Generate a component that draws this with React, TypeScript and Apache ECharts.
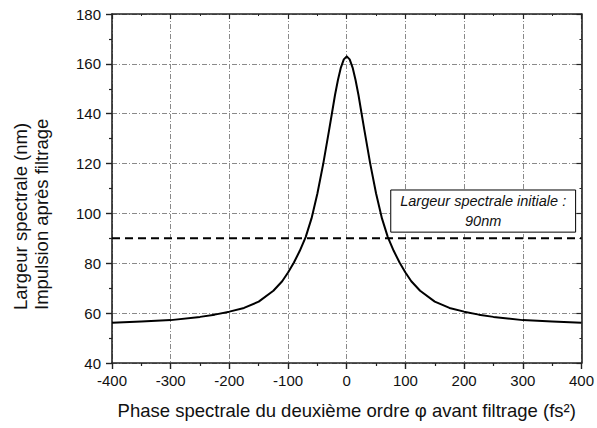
import React, { useEffect, useRef } from "react";
import * as echarts from "echarts";

const phaseValues = [-400, -350, -300, -250, -225, -200, -175, -150, -125, -110, -100, -90, -80, -70, -60, -50, -40, -30, -25, -20, -15, -10, -5, 0, 5, 10, 15, 20, 25, 30, 40, 50, 60, 70, 80, 90, 100, 110, 125, 150, 175, 200, 225, 250, 300, 350, 400];
const widthValues = [56.1, 56.6, 57.2, 58.5, 59.4, 60.6, 62.1, 64.6, 69.0, 72.8, 76.3, 80.3, 85.0, 90.5, 98.0, 108.0, 120.0, 133.5, 140.5, 147.5, 153.5, 158.5, 161.8, 163.0, 161.8, 158.5, 153.5, 147.5, 140.5, 133.5, 120.0, 108.0, 98.0, 90.5, 85.0, 80.3, 76.3, 72.8, 69.0, 64.6, 62.1, 60.6, 59.4, 58.5, 57.2, 56.6, 56.1];
const initialWidth = 90;
const boxX = [75, 390];
const boxY = [92.5, 109.4];
const xTitle = "Phase spectrale du deuxième ordre φ avant filtrage (fs²)";
const yTitle = "Largeur spectrale (nm)\nImpulsion après filtrage";
const boxText = "Largeur spectrale initiale :\n90nm";

const FONT = "'Liberation Sans', Arial, sans-serif";

export default function App() {
  const ref = useRef<HTMLDivElement>(null);
  useEffect(() => {
    if (!ref.current) return;
    const chart = echarts.init(ref.current, null, { renderer: "svg" });
    const curve = phaseValues.map((x, i) => [x, widthValues[i]]);
    const gridLine = { show: true, lineStyle: { color: "#8a8a8a", width: 1, type: [5, 2, 1, 2] } };
    const axisLine = { show: true, onZero: false, lineStyle: { color: "#222", width: 1.6 } };
    chart.setOption({
      animation: false,
      backgroundColor: "#fff",
      grid: { left: 112, right: 13, top: 14, bottom: 65 },
      xAxis: [
        {
          type: "value", min: -400, max: 400, interval: 100, position: "bottom",
          axisLine, splitLine: gridLine,
          axisTick: { show: true, inside: false, length: 6, lineStyle: { color: "#222", width: 1.4 } },
          minorTick: { show: true, splitNumber: 2, length: 3, lineStyle: { color: "#222", width: 1.2 } },
          axisLabel: { color: "#111", fontFamily: FONT, fontSize: 15, margin: 10 },
          name: xTitle, nameLocation: "middle", nameGap: 38,
          nameTextStyle: { color: "#111", fontFamily: FONT, fontSize: 18.5 },
        },
        {
          type: "value", min: -400, max: 400, interval: 100, position: "top",
          axisLine, splitLine: { show: false },
          axisTick: { show: true, inside: true, length: 5, lineStyle: { color: "#222", width: 1.2 } },
          minorTick: { show: true, splitNumber: 2, length: 2, lineStyle: { color: "#222", width: 1 } },
          axisLabel: { show: false },
        },
      ],
      yAxis: [
        {
          type: "value", min: 40, max: 180, interval: 20, position: "left",
          axisLine, splitLine: gridLine,
          axisTick: { show: true, inside: false, length: 6, lineStyle: { color: "#222", width: 1.4 } },
          minorTick: { show: true, splitNumber: 2, length: 3, lineStyle: { color: "#222", width: 1.2 } },
          axisLabel: { color: "#111", fontFamily: FONT, fontSize: 15, margin: 11 },
        },
        {
          type: "value", min: 40, max: 180, interval: 20, position: "right",
          axisLine, splitLine: { show: false },
          axisTick: { show: true, inside: true, length: 5, lineStyle: { color: "#222", width: 1.2 } },
          minorTick: { show: true, splitNumber: 2, length: 2, lineStyle: { color: "#222", width: 1 } },
          axisLabel: { show: false },
        },
      ],
      graphic: [
        {
          type: "text", x: 31, y: 310, rotation: Math.PI / 2,
          style: {
            text: yTitle, fontFamily: FONT, fontSize: 18.5, lineHeight: 21,
            textAlign: "left", textVerticalAlign: "middle", fill: "#111",
          },
        },
      ],
      series: [
        {
          type: "line", data: curve, showSymbol: false, symbol: "none",
          smooth: false,
          lineStyle: { color: "#000", width: 2, join: "round" }, z: 3,
        },
        {
          type: "line", data: [[-400, initialWidth], [400, initialWidth]], showSymbol: false, symbol: "none",
          lineStyle: { color: "#000", width: 2, type: [8, 5] }, z: 3,
          markArea: {
            silent: true,
            itemStyle: { color: "#fff", borderColor: "#000", borderWidth: 1 },
            label: {
              show: true, position: "inside", color: "#111", fontFamily: FONT, fontSize: 14.5,
              fontStyle: "italic", lineHeight: 20, align: "center", verticalAlign: "middle",
            },
            data: [[{ xAxis: boxX[0], yAxis: boxY[0], name: boxText }, { xAxis: boxX[1], yAxis: boxY[1] }]],
          },
        },
      ],
    });
    return () => chart.dispose();
  }, []);
  return (
    <div
      ref={ref}
      style={{ position: "fixed", left: 0, top: 0, width: 597, height: 428, background: "#fff" }}
    />
  );
}
